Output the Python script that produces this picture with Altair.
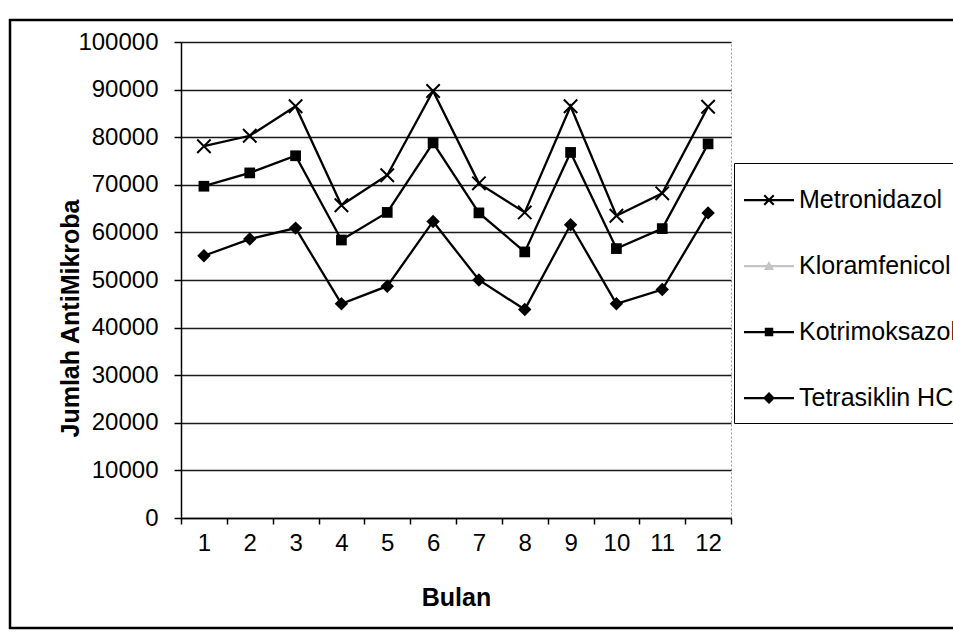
import altair as alt
import pandas as pd

# Monthly antimicrobial usage per drug
bulan = list(range(1, 13))
obat = ["Metronidazol", "Kloramfenicol", "Kotrimoksazol", "Tetrasiklin HCl"]
metronidazol = [78100, 80300, 86500, 65700, 72000, 89700, 70300, 64200, 86500, 63500, 68200, 86400]
kotrimoksazol = [69700, 72500, 76100, 58400, 64200, 78800, 64100, 55900, 76800, 56600, 60800, 78600]
tetrasiklin = [55100, 58600, 60900, 45000, 48700, 62300, 50000, 43800, 61600, 45000, 48000, 64100]
warna = ["black", "#c4c4c4", "black", "black"]

FONT = "Liberation Sans"

seri = {"Metronidazol": metronidazol, "Kotrimoksazol": kotrimoksazol, "Tetrasiklin HCl": tetrasiklin}
df = pd.DataFrame(
    [{"bulan": b, "obat": nama, "nilai": v} for nama, vals in seri.items() for b, v in zip(bulan, vals)]
)


# Legend symbols: a short line with the series marker on it, as filled outlines in the
# unit box, centred slightly left (c) inside the symbol column
def poly(pts):
    return "M" + "L".join(f"{x:.3f},{y:.3f}" for x, y in pts) + "Z"


c = -0.08
GARIS = poly([(c - 1, -0.045), (c + 1, -0.045), (c + 1, 0.045), (c - 1, 0.045)])
SIMBOL_X = (poly([(c - 0.16, -0.22), (c + 0.22, 0.16), (c + 0.16, 0.22), (c - 0.22, -0.16)]) + " "
            + poly([(c - 0.22, 0.16), (c + 0.16, -0.22), (c + 0.22, -0.16), (c - 0.16, 0.22)]))
SIMBOL_SEGITIGA = poly([(c, -0.2), (c + 0.2, 0.16), (c - 0.2, 0.16)])
SIMBOL_KOTAK = poly([(c - 0.17, -0.17), (c + 0.17, -0.17), (c + 0.17, 0.17), (c - 0.17, 0.17)])
SIMBOL_BELAH = poly([(c, -0.24), (c + 0.24, 0), (c, 0.24), (c - 0.24, 0)])
legend_paths = [GARIS + " " + s for s in (SIMBOL_X, SIMBOL_SEGITIGA, SIMBOL_KOTAK, SIMBOL_BELAH)]

x_enc = alt.X(
    "bulan:O",
    title="Bulan",
    scale=alt.Scale(type="band", paddingInner=0, paddingOuter=0),
    bandPosition=0.5,
    axis=alt.Axis(
        labelAngle=0, tickBand="extent", tickSize=6, labelPadding=7,
        labelFontSize=24, labelFont=FONT, labelColor="black",
        titleFontSize=25, titleFont=FONT, titleFontWeight="bold", titleColor="black",
        titleY=87, titleBaseline="alphabetic",
        domainColor="black", domainWidth=1.5, tickColor="black", tickWidth=1.5, grid=False,
    ),
)
y_enc = alt.Y(
    "nilai:Q",
    title="Jumlah AntiMikroba",
    scale=alt.Scale(domain=[0, 100000], nice=False),
    axis=alt.Axis(
        values=list(range(0, 100001, 10000)), format="d",
        tickSize=7, labelPadding=16, labelFontSize=24, labelFont=FONT, labelColor="black",
        domainColor="black", domainWidth=1.5, tickColor="black", tickWidth=1.5,
        grid=True, gridColor="#1a1a1a", gridWidth=1.5,
        titleFontSize=25, titleFont=FONT, titleFontWeight="bold", titleColor="black",
        titleX=-103, titleY=276, titleBaseline="alphabetic",
    ),
)

leg = alt.Legend(
    title=None, orient="none", legendX=553, legendY=121,
    fillColor="white", strokeColor="black", padding=12, rowPadding=28,
    symbolSize=2500, symbolStrokeWidth=0, symbolOpacity=1,
    labelFontSize=25, labelFont=FONT, labelColor="black", labelOffset=3, labelLimit=400,
)

base = alt.Chart(df)

garis = base.mark_line(color="black", strokeWidth=2.3).encode(x=x_enc, y=y_enc, detail="obat:N")

titik_x = base.transform_filter(alt.datum.obat == "Metronidazol").mark_point(
    shape="M-1,-1L1,1M-1,1L1,-1", filled=False, stroke="black", strokeWidth=2, size=180, opacity=1
).encode(x=x_enc, y=y_enc)
titik_kotak = base.transform_filter(alt.datum.obat == "Kotrimoksazol").mark_point(
    shape="square", filled=True, fill="black", size=115, opacity=1
).encode(x=x_enc, y=y_enc)
titik_belah = base.transform_filter(alt.datum.obat == "Tetrasiklin HCl").mark_point(
    shape="diamond", filled=True, fill="black", size=180, opacity=1
).encode(x=x_enc, y=y_enc)

# Invisible layer that carries the legend
legenda = base.mark_point(filled=True, opacity=0, size=2500).encode(
    x=x_enc, y=y_enc,
    color=alt.Color("obat:N", scale=alt.Scale(domain=obat, range=warna), legend=leg),
    shape=alt.Shape("obat:N", scale=alt.Scale(domain=obat, range=legend_paths), legend=leg),
)

# Outer chart frame
bingkai = alt.Chart(alt.Data(values=[{}])).mark_rect(
    fillOpacity=0, stroke="black", strokeWidth=2.5
).encode(x=alt.value(-171), x2=alt.value(800), y=alt.value(-22), y2=alt.value(586))

chart = alt.layer(bingkai, garis, titik_x, titik_kotak, titik_belah, legenda).properties(
    width=550, height=476,
    padding={"left": 181, "top": 42, "right": 222, "bottom": 120},
    autosize=alt.AutoSizeParams(type="none"),
    background="white",
).configure_view(stroke="#9a9a9a", strokeWidth=1, strokeDash=[2, 2])

chart.save("out.html", embed_options={"renderer": "svg", "actions": False})
